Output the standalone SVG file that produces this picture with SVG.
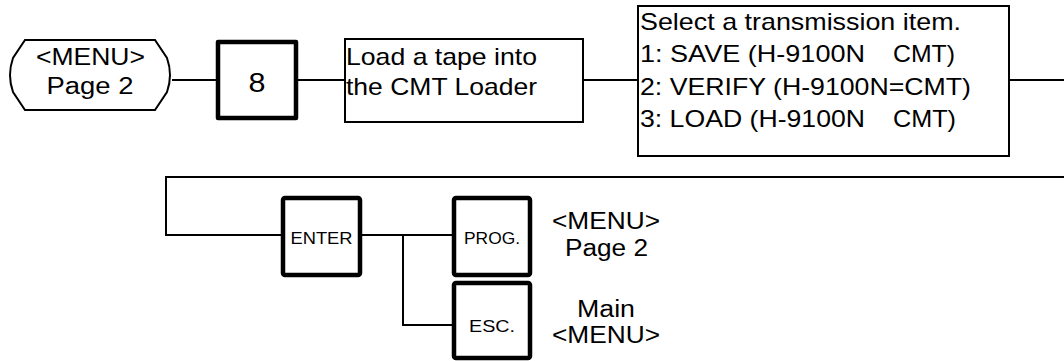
<svg xmlns="http://www.w3.org/2000/svg" width="1064" height="361" viewBox="0 0 1064 361">
<style>
text{font-family:"Liberation Sans",Arial,sans-serif;fill:#000}
.big{font-size:24px}
.mid{font-size:23px}
.sm{font-size:17px}
.c{text-anchor:middle}
.thin{fill:#fff;stroke:#000;stroke-width:2}
.key{fill:#fff;stroke:#000;stroke-width:4.5;stroke-linejoin:round}
.ln{fill:none;stroke:#000;stroke-width:2}
</style>
<rect width="1064" height="361" fill="#fff"/>
<g id="connectors">
<path class="ln" d="M172,80H218"/>
<path class="ln" d="M296,80H345"/>
<path class="ln" d="M583,80H638"/>
<path class="ln" d="M1009,80H1064"/>
<path class="ln" d="M1064,177H166V235H283"/>
<path class="ln" d="M360,235H454"/>
<path class="ln" d="M403,235V325H454"/>
</g>
<g id="menu-start">
<path class="thin" d="M25,40H155L167,58Q173,75 167,92L155,110H25L13,92Q7,75 13,58Z"/>
<text class="mid c" x="90.5" y="65" textLength="109" lengthAdjust="spacingAndGlyphs">&lt;MENU&gt;</text>
<text class="mid c" x="90" y="94" textLength="87" lengthAdjust="spacingAndGlyphs">Page 2</text>
</g>
<g id="key-8">
<rect class="key" x="218" y="42" width="78" height="76"/>
<text class="c" style="font-size:28px" x="257" y="92" textLength="17" lengthAdjust="spacingAndGlyphs">8</text>
</g>
<g id="load-tape">
<rect class="thin" x="345" y="39" width="238" height="83"/>
<text class="big" x="346" y="65" textLength="191" lengthAdjust="spacingAndGlyphs">Load a tape into</text>
<text class="big" x="346" y="95" textLength="191" lengthAdjust="spacingAndGlyphs">the CMT Loader</text>
</g>
<g id="select-item">
<rect class="thin" x="638" y="6" width="371" height="150"/>
<text class="big" x="640" y="30" textLength="321" lengthAdjust="spacingAndGlyphs">Select a transmission item.</text>
<text class="big" x="640" y="62" textLength="225" lengthAdjust="spacingAndGlyphs">1: SAVE (H-9100N</text>
<text class="big" x="893" y="62" textLength="62" lengthAdjust="spacingAndGlyphs">CMT)</text>
<text class="big" x="640" y="95" textLength="331" lengthAdjust="spacingAndGlyphs">2: VERIFY (H-9100N=CMT)</text>
<text class="big" x="640" y="127" textLength="225" lengthAdjust="spacingAndGlyphs">3: LOAD (H-9100N</text>
<text class="big" x="893" y="127" textLength="63" lengthAdjust="spacingAndGlyphs">CMT)</text>
</g>
<g id="key-enter">
<rect class="key" x="283" y="198" width="77" height="77" rx="2"/>
<text class="sm c" x="321.5" y="244" textLength="62" lengthAdjust="spacingAndGlyphs">ENTER</text>
</g>
<g id="key-prog">
<rect class="key" x="454" y="198" width="76" height="77" rx="2"/>
<text class="sm c" x="492" y="244" textLength="56" lengthAdjust="spacingAndGlyphs">PROG.</text>
</g>
<g id="key-esc">
<rect class="key" x="454" y="283" width="76" height="75" rx="2"/>
<text class="sm c" x="492" y="332" textLength="46" lengthAdjust="spacingAndGlyphs">ESC.</text>
</g>
<g id="label-menu-page2">
<text class="mid c" x="606" y="229" textLength="108" lengthAdjust="spacingAndGlyphs">&lt;MENU&gt;</text>
<text class="mid c" x="606.5" y="256" textLength="83" lengthAdjust="spacingAndGlyphs">Page 2</text>
</g>
<g id="label-main-menu">
<text class="mid c" x="606" y="317" textLength="58" lengthAdjust="spacingAndGlyphs">Main</text>
<text class="mid c" x="606" y="343" textLength="108" lengthAdjust="spacingAndGlyphs">&lt;MENU&gt;</text>
</g>
</svg>
